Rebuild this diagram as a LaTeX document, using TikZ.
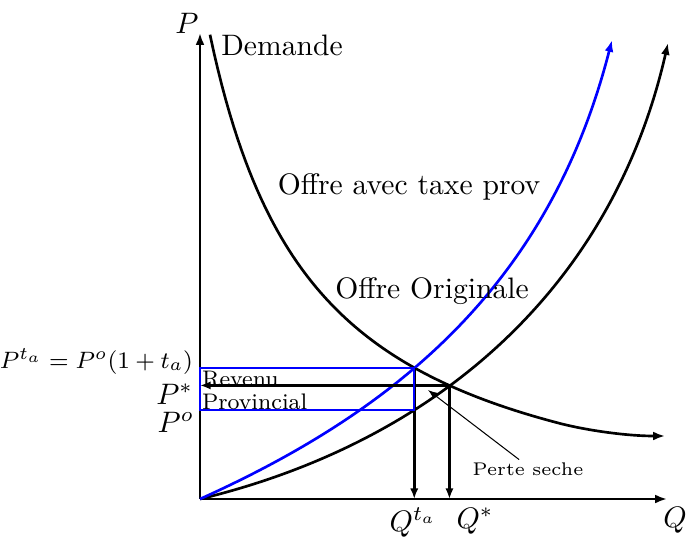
\documentclass[tikz,border=0pt]{standalone}
\usetikzlibrary{arrows.meta,intersections}
\begin{document}
\begin{tikzpicture}[x=0.3378pt,y=-0.3378pt,
  curve/.style={line width=0.9pt,-{Latex[length=4pt,width=3pt]}},
  axis/.style={line width=0.9pt,-{Latex[length=4pt,width=3pt]}},
  droparrow/.style={line width=0.9pt,-{Latex[length=3.6pt,width=2.8pt]}},
  thinarrow/.style={line width=0.35pt,-{Latex[length=3.2pt,width=2.4pt]}},
  box/.style={blue,line width=0.6pt},
  lbl/.style={inner sep=0pt,outer sep=0pt}]
\useasboundingbox (0,0) rectangle (687,537);
\coordinate (O) at (200,499);
\coordinate (ytop) at (200,33);
\coordinate (xend) at (667,499);
% axes
\draw[axis] (O) -- (ytop);
\draw[axis] (O) -- (xend);
% demand
\draw[curve,name path=dem] plot[domain=210:560,samples=90] (\x,{542.5-544.34/(\x/100-1.028)})
  .. controls (585,429.9) and (625,436) .. (665,436);
% original supply
\coordinate (s0) at (200,499);
\coordinate (s3) at (668,43);
\draw[curve,name path=sup] (s0) .. controls (440,441) and (613,285) .. (s3);
% supply with tax
\coordinate (t3) at (612,40);
\draw[curve,blue,name path=tax] (s0) .. controls (400,409) and (550,282) .. (t3);
% intersections
\path[name intersections={of=dem and tax,by=A}];
\path[name intersections={of=dem and sup,by=B}];
\path[name path=vA] (A) -- (A |- O);
\path[name intersections={of=vA and sup,by=C}];
% drop lines
\draw[droparrow] (A) -- (A |- O);
\draw[droparrow] (B) -- (B |- O);
\draw[droparrow] (B) -- (O |- B);
% tax revenue box
\draw[box] (O |- A) rectangle (C);
% labels
\node[lbl,anchor=base] (plab) at (187,33) {$P$};
\node[lbl,anchor=base] (qlab) at (675,527) {$Q$};
\node[lbl] (dlab) at (282,45) {Demande};
\node[lbl] (tlab) at (409,187) {Offre avec taxe prov};
\node[lbl] (olab) at (432,291) {Offre Originale};
\node[lbl,anchor=base west,font=\fontsize{7.6}{9}\selectfont] (rev) at (202,386) {Revenu};
\node[lbl,anchor=base west,font=\fontsize{7.6}{9}\selectfont] (prov) at (202,409) {Provincial};
\node[lbl,anchor=base east,font=\footnotesize] (pta) at (193,368) {$P^{t_a} = P^o(1+t_a)$};
\node[lbl,anchor=base east] (pstar) at (193,404) {$P^*$};
\node[lbl,anchor=base east] (po) at (194,432) {$P^o$};
\node[lbl,anchor=base] (qta) at (413,531) {$Q^{t_a}$};
\node[lbl,anchor=base] (qstar) at (475,528) {$Q^*$};
\node[lbl,font=\fontsize{6.2}{7.5}\selectfont] (perte) at (528,469) {Perte seche};
\coordinate (ptip) at (428,390);
\draw[thinarrow] ([xshift=-3pt,yshift=1pt]perte.north) -- (ptip);
\end{tikzpicture}
\end{document}
